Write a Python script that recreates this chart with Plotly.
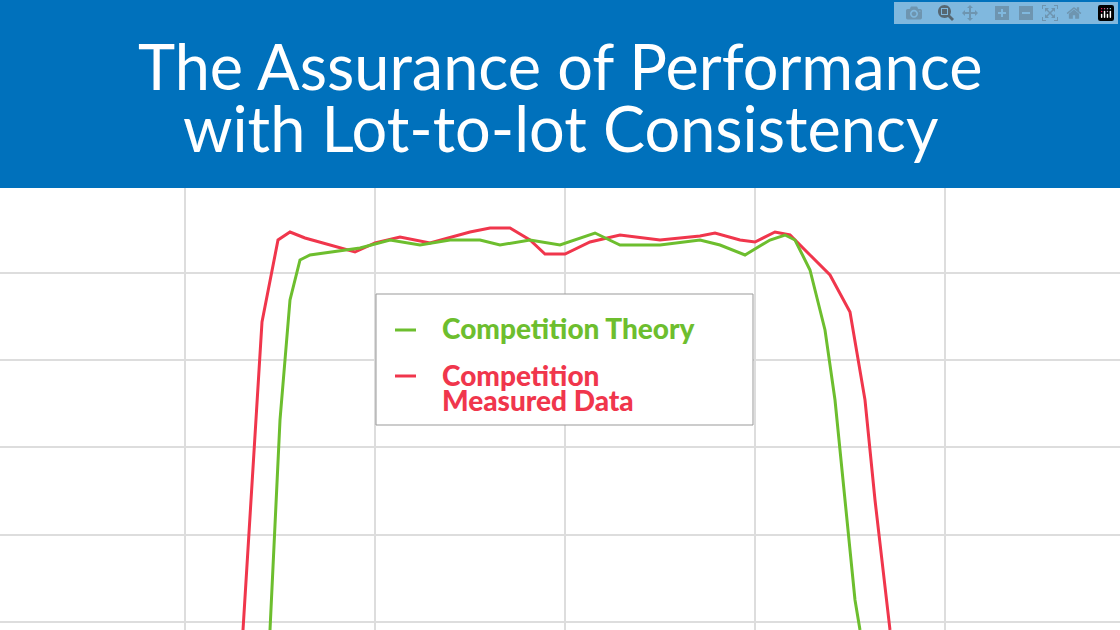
import plotly.graph_objects as go

# x: position units, y: response units
red_x = [243,262,278,290,305,330,355,375,400,430,470,490,510,530,545,565,590,620,660,700,715,740,755,775,790,810,830,850,865,875,885,890]
red_y = [0,308,390,398,392,385,378,387,393,387,398,402,402,390,376,376,388,395,390,394,397,390,388,398,395,375,355,318,230,130,40,0]
grn_x = [270,280,290,300,310,330,360,390,420,450,480,500,530,560,595,620,660,700,720,745,770,785,795,810,825,835,845,855,860]
grn_y = [0,210,330,370,375,378,382,390,385,390,390,385,390,385,397,385,385,390,385,375,390,395,390,360,300,230,130,30,0]
grid_x = [185,375,565,755,945]
grid_y = [8,95,183,270,357]
title_lines = ["The Assurance of Performance", "with Lot-to-lot Consistency"]
legend_lines = [("Competition Theory", 0, 328), ("Competition", 1, 375), ("Measured Data", 1, 400)]

GREEN = "#6DBE2E"; RED = "#F0364C"; BLUE = "#0071BC"
COLS = [GREEN, RED]
fig = go.Figure()
fig.add_trace(go.Scatter(x=red_x, y=red_y, mode="lines", line=dict(color=RED, width=3)))
fig.add_trace(go.Scatter(x=grn_x, y=grn_y, mode="lines", line=dict(color=GREEN, width=3)))
ydom = 442/630
fig.update_layout(
    width=1120, height=630, margin=dict(l=0, r=0, t=0, b=0),
    paper_bgcolor="white", plot_bgcolor="white", showlegend=False,
    xaxis=dict(range=[0, 1120], tickvals=grid_x, showticklabels=False, gridcolor="#DDDDDD",
               gridwidth=2, zeroline=False, fixedrange=True),
    yaxis=dict(range=[0, 442], tickvals=grid_y, showticklabels=False, gridcolor="#DDDDDD",
               gridwidth=2, zeroline=False, domain=[0, ydom]),
)
fig.add_shape(type="rect", xref="paper", yref="paper", x0=0, x1=1, y0=ydom, y1=1,
              fillcolor=BLUE, line_width=0)
for i, t in enumerate(title_lines):
    fig.add_annotation(text=t, xref="paper", yref="paper", x=0.5, y=1 - (66 + 62*i)/630,
                       showarrow=False, font=dict(family="Lato", size=63, color="white"),
                       xanchor="center", yanchor="middle")
# legend box
fig.add_shape(type="rect", xref="paper", yref="paper", x0=376/1120, x1=753/1120,
              y0=1-425/630, y1=1-294/630, line=dict(color="#999999", width=1), fillcolor="white")
for ly, ci in [(330, 0), (376, 1)]:
    fig.add_shape(type="line", xref="paper", yref="paper", x0=395/1120, x1=416/1120,
                  y0=1-ly/630, y1=1-ly/630, line=dict(color=COLS[ci], width=3))
for text, ci, ty in legend_lines:
    fig.add_annotation(text=text, xref="paper", yref="paper", x=440/1120, y=1-ty/630,
                       showarrow=False, xanchor="left", yanchor="middle", align="left",
                       font=dict(family="Lato", size=28, color=COLS[ci], weight=900))
fig.write_html("out.html")
with open("out.html") as f:
    html = f.read()
html = html.replace("<head>", "<head><style>html,body{margin:0;padding:0;overflow:hidden}</style>", 1)
with open("out.html", "w") as f:
    f.write(html)
